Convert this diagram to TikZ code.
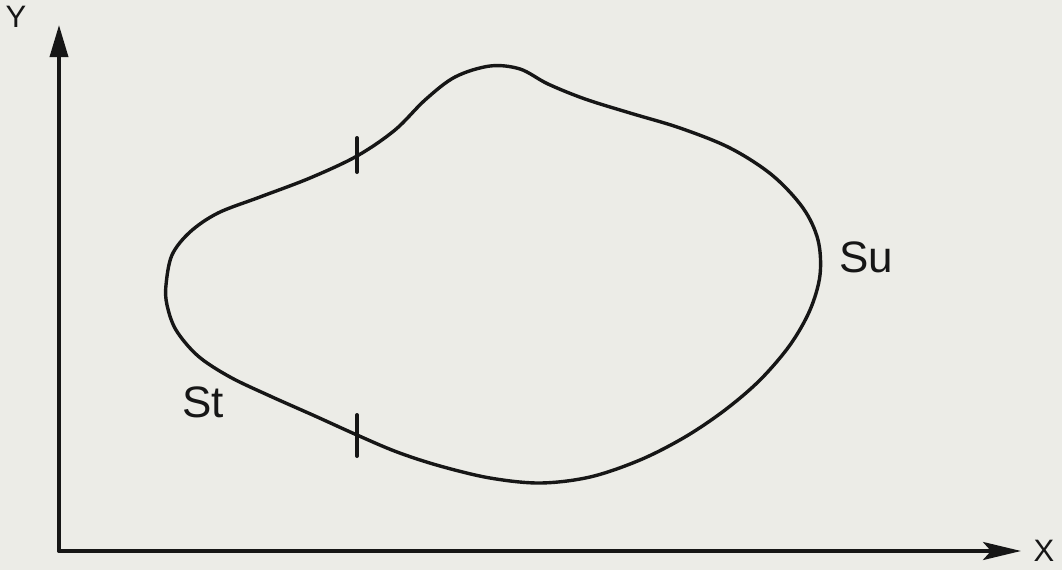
\documentclass[tikz,border=0pt]{standalone}
\usepackage{fontspec}
\setmainfont{Liberation Sans}
\usetikzlibrary{arrows.meta}
\definecolor{paper}{RGB}{236,236,231}
\definecolor{ink}{RGB}{22,22,22}
\tikzset{
  axis/.style={draw=ink, line width=3.6pt, line cap=round},
  outline/.style={draw=ink, line width=3.4pt},
  tickmark/.style={draw=ink, line width=4pt, line cap=round},
  biglabel/.style={text=ink, font=\fontsize{44}{46}\selectfont, inner sep=0pt},
  axlabel/.style={text=ink, font=\fontsize{31}{33}\selectfont, inner sep=0pt}
}
\begin{document}
\begin{tikzpicture}[x=1pt,y=-1pt]
\fill[paper] (0,0) rectangle (1062,570);
\useasboundingbox (0,0) rectangle (1062,570);
\coordinate (O) at (59,551);
\coordinate (Ytip) at (59,25);
\coordinate (Xtip) at (1021,551);
\draw[axis, -{Triangle[length=32pt,width=18pt]}] (O) -- (Ytip);
\draw[axis, -{Stealth[length=38pt,width=18pt,inset=8pt]}] (O) -- (Xtip);
\node[axlabel] (ylab) at (16,17) {Y};
\node[axlabel] (xlab) at (1044,551) {X};
\draw[outline] plot[smooth cycle, tension=0.55] coordinates {
  (166,285) (172,255) (190,232) (218,213) (260,197) (310,178) (357,156)
  (395,130) (425,100) (455,77) (490,66) (520,69) (548,84) (585,99)
  (630,113) (680,128) (730,148) (772,175) (803,208) (818,240) (820,275)
  (810,310) (790,345) (760,380) (725,410) (685,437) (640,460) (590,477)
  (540,483) (490,478) (440,466) (397,452) (357,435) (315,416) (270,396)
  (230,377) (198,356) (176,330) (167,305)};
\coordinate (t1) at (357,156);
\coordinate (t2) at (357,437);
\draw[tickmark] ([yshift=-16pt]t1) -- ([yshift=18pt]t1);
\draw[tickmark] ([yshift=-19pt]t2) -- ([yshift=22pt]t2);
\node[biglabel] (st) at (203,402) {St};
\node[biglabel] (su) at (866,257) {Su};
\end{tikzpicture}
\end{document}
